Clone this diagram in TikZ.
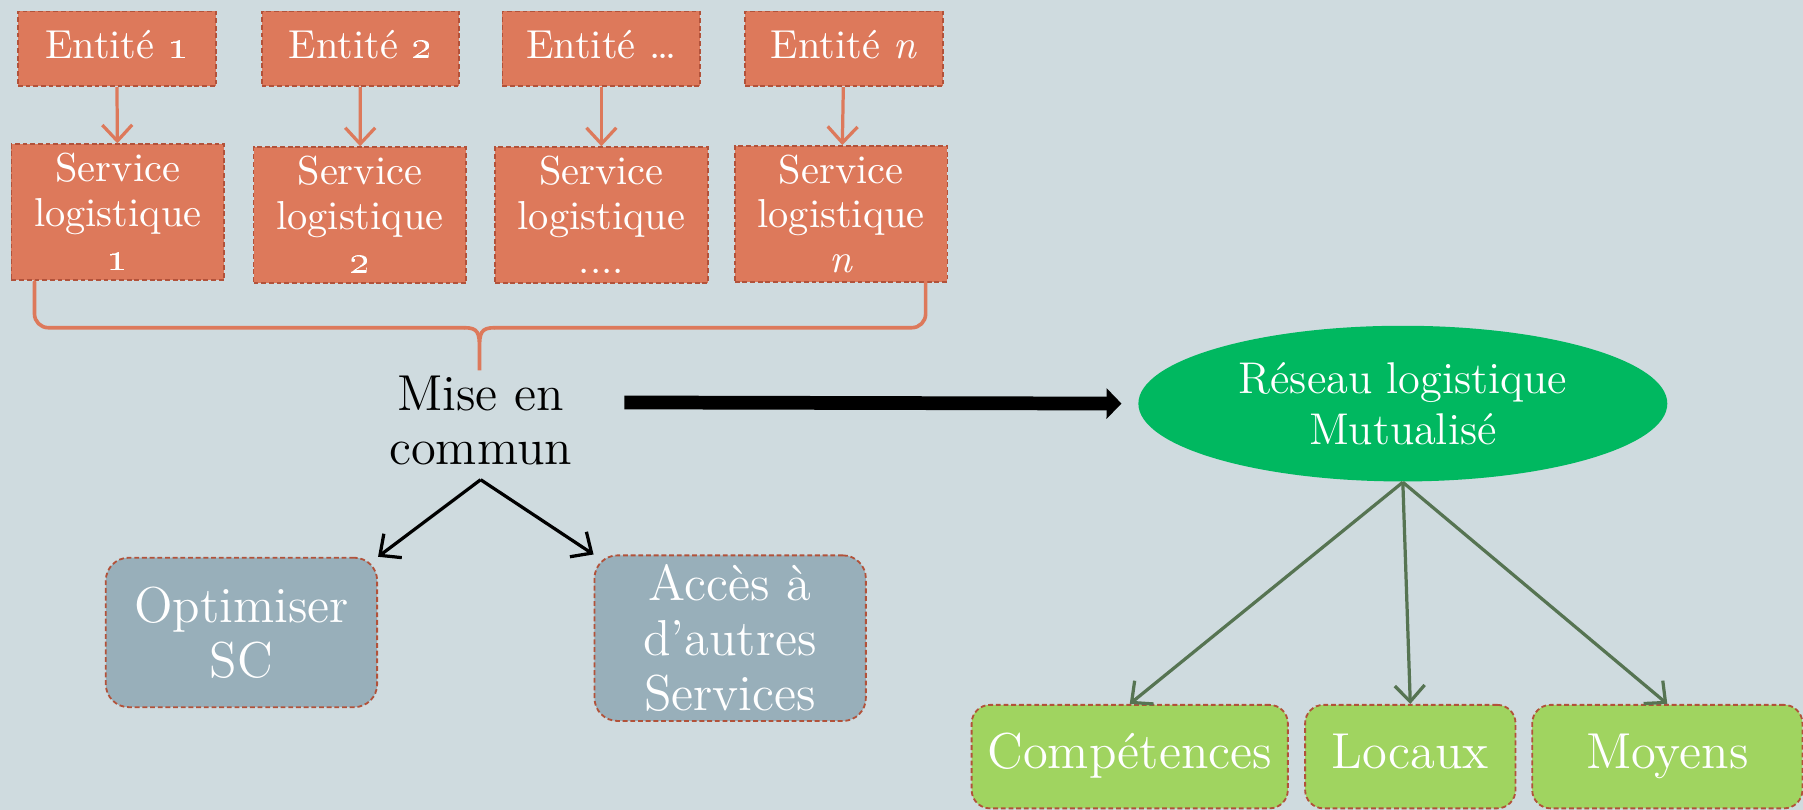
\documentclass[tikz,border=0pt]{standalone}
\usepackage{xcolor}
\usepackage{tikz}
\usetikzlibrary{arrows.meta, shapes.geometric}
\definecolor{fond}{RGB}{207,219,223}
\definecolor{orangeS}{RGB}{221,121,91}
\definecolor{bordS}{RGB}{178,82,58}
\definecolor{vertE}{RGB}{0,184,96}
\definecolor{vertC}{RGB}{160,212,96}
\definecolor{grisB}{RGB}{152,175,186}
\definecolor{vertF}{RGB}{86,116,82}
\tikzset{
  entite/.style={draw=bordS, dash pattern=on 1.2pt off 0.7pt, line width=0.45pt, fill=orangeS, text=white, minimum width=17.2mm, minimum height=6.5mm, inner sep=1pt, text height=7pt, text depth=2pt, font=\fontsize{10}{11}\selectfont},
  service/.style={entite, minimum width=18.5mm, minimum height=11.8mm, text height=, text depth=, align=center},
  cible/.style={draw=bordS, dash pattern=on 1.2pt off 0.7pt, line width=0.45pt, fill=grisB, text=white, rounded corners=2mm, minimum width=23.6mm, inner sep=1pt, align=center, font=\fontsize{12.5}{13.6}\selectfont},
  moyen/.style={draw=bordS, dash pattern=on 1.2pt off 0.7pt, line width=0.45pt, fill=vertC, text=white, rounded corners=1.6mm, minimum height=9mm, text height=9pt, text depth=3pt, font=\fontsize{12.5}{14}\selectfont},
  fleche/.style={line width=0.8pt, -{Straight Barb[length=1.4mm,width=2.6mm]}}
}
\begin{document}
\begin{tikzpicture}[x=0.1mm,y=-0.1mm]
\fill[fond] (0,0) rectangle (1568,704);
\useasboundingbox (0,0) rectangle (1568,704);
\node[entite] (e1) at (101.5,42.5) {Entité \oldstylenums{1}};
\node[entite] (e2) at (313.5,42.5) {Entité \oldstylenums{2}};
\node[entite] (e3) at (523,42.5) {Entité \ldots};
\node[entite] (en) at (734,42.5) {Entité \textit{n}};
\node[service] (s1) at (102.5,184.5) {Service\\logistique\\\oldstylenums{1}};
\node[service] (s2) at (313,187) {Service\\logistique\\\oldstylenums{2}};
\node[service] (s3) at (523,187) {Service\\logistique\\....};
\node[service] (sn) at (731.5,186) {Service\\logistique\\\textit{n}};
\draw[fleche, orangeS] (e1) -- (s1);
\draw[fleche, orangeS] (e2) -- (s2);
\draw[fleche, orangeS] (e3) -- (s3);
\draw[fleche, orangeS] (en) -- (sn);
\draw[orangeS, line width=0.9pt, line cap=round, rounded corners=1.2mm] (30,245) -- (30,285) -- (404,285);
\draw[orangeS, line width=0.9pt, line cap=round] (404,285) .. controls (416,285) and (417,290) .. (417,303) -- (417,322) -- (417,303) .. controls (417,290) and (418,285) .. (430,285);
\draw[orangeS, line width=0.9pt, line cap=round, rounded corners=1.2mm] (430,285) -- (805,285) -- (805,245);
\node[font=\fontsize{12.5}{13.4}\selectfont, align=center] (mise) at (418,366) {Mise en\\commun};
\node[ellipse, fill=vertE, text=white, minimum width=46mm, minimum height=12.2mm, align=center, font=\fontsize{11}{12.8}\selectfont] (reseau) at (1220,351) {Réseau logistique\\Mutualisé};
\coordinate (depart) at (543,350);
\draw[line width=3.4pt, -{Triangle[length=1.3mm,width=2.6mm]}, shorten >=1.4mm] (depart) -- (reseau.west);
\node[cible, minimum height=13mm] (optim) at (210,550) {Optimiser\\SC};
\node[cible, minimum height=14.4mm] (acces) at (635,555) {Accès à\\d’autres\\Services};
\draw[fleche] (mise.south) -- (optim.north east);
\draw[fleche] (mise.south) -- (acces.north west);
\node[moyen, minimum width=27.5mm] (compet) at (982.5,658) {Compétences};
\node[moyen, minimum width=18.3mm] (locaux) at (1226.5,658) {Locaux};
\node[moyen, minimum width=23.5mm] (moyens) at (1450,658) {Moyens};
\draw[fleche, vertF] (reseau.south) -- (compet.north);
\draw[fleche, vertF] (reseau.south) -- (locaux.north);
\draw[fleche, vertF] (reseau.south) -- (moyens.north);
\end{tikzpicture}
\end{document}
